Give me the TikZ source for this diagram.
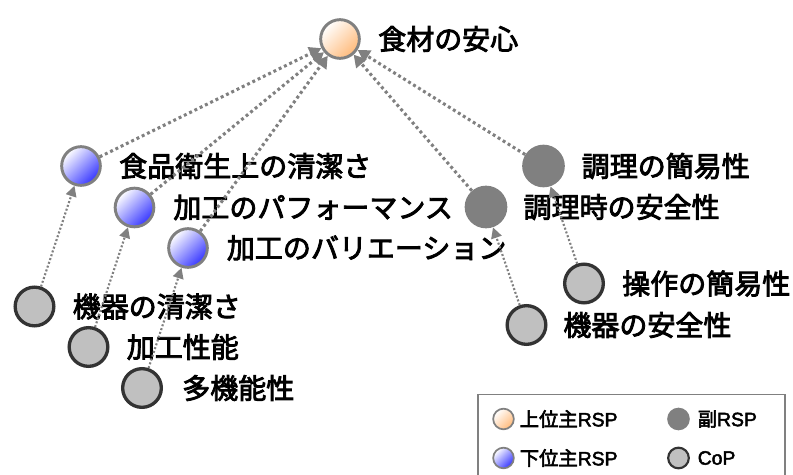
\documentclass[tikz,border=0pt]{standalone}
\usepackage{fontspec}
\setmainfont{Liberation Sans}
\newfontfamily\jpfont[FakeBold=3]{Noto Sans CJK JP}
\newfontfamily\jplegfont[FakeBold=3]{Noto Sans CJK JP}
\newfontfamily\latlegfont[FakeBold=2.5]{Liberation Sans}
\usetikzlibrary{arrows.meta}
\definecolor{arrgray}{HTML}{808080}
\definecolor{peach}{HTML}{FFBA7A}
\definecolor{bluefill}{HTML}{3535FF}
\definecolor{copfill}{HTML}{C0C0C0}
\definecolor{copline}{HTML}{333333}
\definecolor{subfill}{HTML}{808080}
\tikzset{
  topnode/.style={circle, minimum size=29pt, inner sep=0pt, draw=arrgray, line width=2.2pt,
    top color=white, bottom color=peach, shading angle=45},
  lownode/.style={circle, minimum size=29pt, inner sep=0pt, draw=arrgray, line width=2.2pt,
    top color=white, bottom color=bluefill, shading angle=45},
  subnode/.style={circle, minimum size=32pt, inner sep=0pt, fill=subfill},
  copnode/.style={circle, minimum size=29pt, inner sep=0pt, draw=copline, line width=2.5pt, fill=copfill},
  lbl/.style={anchor=west, inner sep=0pt, font=\jpfont\fontsize{21pt}{25pt}\selectfont},
  bigarrow/.style={draw=arrgray, line width=2.3pt, dash pattern=on 2.2pt off 2.2pt,
    -{Triangle[length=9pt,width=10pt]}},
  smallarrow/.style={draw=arrgray, line width=1.6pt, dash pattern=on 1.5pt off 1.5pt,
    -{Triangle[length=8pt,width=8pt]}},
  legtopnode/.style={circle, minimum size=15.5pt, inner sep=0pt, draw=arrgray, line width=1.3pt,
    top color=white, bottom color=peach, shading angle=45},
  leglownode/.style={circle, minimum size=15.5pt, inner sep=0pt, draw=arrgray, line width=1.3pt,
    top color=white, bottom color=bluefill, shading angle=45},
  legsubnode/.style={circle, minimum size=17pt, inner sep=0pt, fill=subfill},
  legcopnode/.style={circle, minimum size=15.5pt, inner sep=0pt, draw=copline, line width=1.6pt, fill=copfill},
  leglbl/.style={anchor=west, inner sep=0pt, font=\latlegfont\fontsize{14.5pt}{16pt}\selectfont},
}
\begin{document}
\begin{tikzpicture}[x=0.75pt,y=-0.75pt]
\useasboundingbox (0,0) rectangle (793,475);

% nodes
\node[topnode] (top) at (340,39) {};
\node[lownode] (a1) at (81,166) {};
\node[lownode] (a2) at (134.5,207.5) {};
\node[lownode] (a3) at (188,248) {};
\node[subnode] (b1) at (543.5,166) {};
\node[subnode] (b2) at (486,207) {};
\node[copnode] (c1) at (34.5,306.5) {};
\node[copnode] (c2) at (88.5,347) {};
\node[copnode] (c3) at (142,388) {};
\node[copnode] (d1) at (584,283.5) {};
\node[copnode] (d2) at (526.5,325) {};

% labels
\node[lbl] (ttop) at ([xshift=28.5pt]top.center) {食材の安心};
\node[lbl] (ta1) at ([xshift=28.5pt]a1.center) {食品衛生上の清潔さ};
\node[lbl] (ta2) at ([xshift=29pt]a2.center) {加工のパフォーマンス};
\node[lbl] (ta3) at ([xshift=29pt]a3.center) {加工のバリエーション};
\node[lbl] (tb1) at ([xshift=28.5pt]b1.center) {調理の簡易性};
\node[lbl] (tb2) at ([xshift=28pt]b2.center) {調理時の安全性};
\node[lbl] (tc1) at ([xshift=28.5pt]c1.center) {機器の清潔さ};
\node[lbl] (tc2) at ([xshift=28.5pt]c2.center) {加工性能};
\node[lbl] (tc3) at ([xshift=30pt]c3.center) {多機能性};
\node[lbl] (td1) at ([xshift=28.5pt]d1.center) {操作の簡易性};
\node[lbl] (td2) at ([xshift=27.5pt]d2.center) {機器の安全性};

% connectors
\draw[bigarrow] (a1) -- (top);
\draw[bigarrow] (a2) -- (top);
\draw[bigarrow] (a3) -- (top);
\draw[bigarrow] (b2) -- (top);
\draw[bigarrow] (b1) -- (top);
\draw[smallarrow] (c1) -- (a1);
\draw[smallarrow] (c2) -- (a2);
\draw[smallarrow] (c3) -- (a3);
\draw[smallarrow] (d2) -- (b2);
\draw[smallarrow] (d1) -- (b1);

% legend
\draw[arrgray, line width=1.3pt] (478,476) -- (478,394.5) -- (785,394.5) -- (785,476);
\node[legtopnode] (l1) at (503.5,419) {};
\node[leglbl] (tl1) at (519.5,419) {{\jplegfont 上位主}RSP};
\node[legsubnode] (l2) at (678.5,419) {};
\node[leglbl] (tl2) at (697.5,419) {{\jplegfont 副}RSP};
\node[leglownode] (l3) at (503.5,458) {};
\node[leglbl] (tl3) at (519.5,458) {{\jplegfont 下位主}RSP};
\node[legcopnode] (l4) at (678.5,458) {};
\node[leglbl] (tl4) at (697.5,458) {CoP};
\end{tikzpicture}
\end{document}
